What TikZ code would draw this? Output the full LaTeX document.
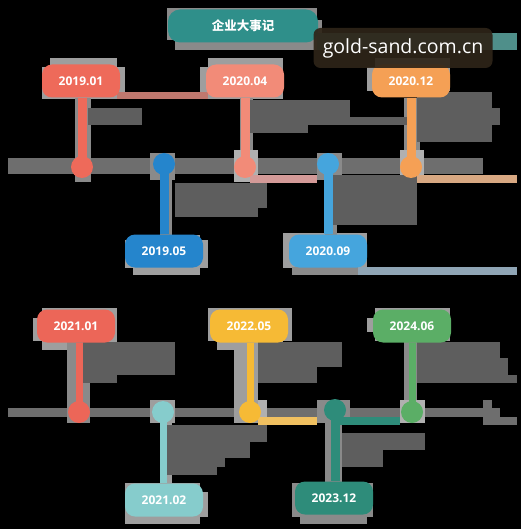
\documentclass[tikz,border=0pt]{standalone}
\usepackage{fontspec}
\setmainfont{Open Sans}
\newfontfamily\cjk{Noto Sans CJK SC}
\definecolor{cA}{HTML}{EE6A5A}
\definecolor{cB}{HTML}{F28B78}
\definecolor{cC}{HTML}{F5A055}
\definecolor{cD}{HTML}{2585CC}
\definecolor{cE}{HTML}{45A5DD}
\definecolor{cF}{HTML}{EC6658}
\definecolor{cG}{HTML}{86CCCC}
\definecolor{cH}{HTML}{F6BA35}
\definecolor{cI}{HTML}{2E8C7A}
\definecolor{cJ}{HTML}{5BAE66}
\definecolor{titleteal}{HTML}{2F8F8A}
\definecolor{tealbar}{HTML}{4F8F8A}
\definecolor{pinkbar}{HTML}{C0786E}
\definecolor{pinkbarB}{HTML}{D49A98}
\definecolor{tanbar}{HTML}{D8A882}
\definecolor{steelbar}{HTML}{8FA5B5}
\definecolor{yellowbar}{HTML}{F0C060}
\definecolor{wmbrown}{HTML}{2E2418}
\definecolor{axisgray}{HTML}{6E6E6E}
\definecolor{blockgray}{HTML}{5E5E5E}
\definecolor{framegray}{HTML}{9E9E9E}
\definecolor{lightframe}{HTML}{B0B0B0}
\definecolor{stemgray}{HTML}{8A8A8A}
\tikzset{
  datebox/.style={rounded corners=10pt, minimum width=78pt, minimum height=33pt,
    inner sep=0pt, text=white, font=\bfseries\fontsize{12}{14}\selectfont},
  dot/.style={circle, minimum size=22pt, inner sep=0pt},
  stem/.style={line width=9pt},
  block/.style={fill=blockgray},
  frame/.style={fill=framegray},
  lframe/.style={fill=lightframe},
  backing/.style={fill=stemgray},
  axis/.style={fill=axisgray}
}
\begin{document}
\begin{tikzpicture}[x=1pt,y=-1pt]
\useasboundingbox (0,0) rectangle (521,529);
\fill[black] (0,0) rectangle (521,529);

% ---------- title ----------
\fill[stemgray] (167,8) rectangle (317,40);
\fill[stemgray] (175,20) rectangle (322,50);
\fill[tealbar] (317,33) rectangle (517,50);
\node[fill=titleteal, rounded corners=12pt, minimum width=150pt, minimum height=33pt,
  text=white, font=\cjk\bfseries\fontsize{12.5}{14}\selectfont] (title) at (243,26) {企业大事记};

% ---------- top axis ----------
\fill[axis] (8,158) rectangle (483,174);

% backings top row
\fill[frame] (50,58) rectangle (117,70);  \fill[frame] (42,67) rectangle (125,99);
\fill[frame] (208,58) rectangle (283,70); \fill[frame] (200,67) rectangle (283,99);
\fill[frame] (375,58) rectangle (450,70); \fill[frame] (367,67) rectangle (450,91);
\fill[frame] (133,235) rectangle (200,275); \fill[frame] (125,240) rectangle (208,268);
\fill[frame] (283,233) rectangle (367,268);
\fill[backing] (75,98) rectangle (91,182);
\fill[backing] (240,98) rectangle (253,182);
\fill[backing] (404,98) rectangle (420,182);
\fill[backing] (150,153) rectangle (175,180); \fill[backing] (160,175) rectangle (172,235);
\fill[backing] (317,153) rectangle (342,180); \fill[backing] (325,175) rectangle (337,235);
\fill[lframe] (234,150) rectangle (258,182);
\fill[lframe] (400,150) rectangle (424,182);

% colored bars top
\fill[pinkbar] (117,92) rectangle (208,99);
\fill[pinkbarB] (250,175) rectangle (317,183);
\fill[tanbar] (417,175) rectangle (517,183);
\fill[stemgray] (292,267) rectangle (358,275);
\fill[steelbar] (358,267) rectangle (517,275);

% text blocks top
\fill[block] (88,108) rectangle (142,125);
\fill[block] (250,100) rectangle (350,117);
\fill[block] (250,117) rectangle (308,133);
\fill[block] (308,117) rectangle (408,125);
\fill[block] (417,92) rectangle (492,142);
\fill[block] (492,108) rectangle (500,125);
\fill[block] (175,183) rectangle (267,208);
\fill[block] (175,208) rectangle (258,217);
\fill[block] (333,175) rectangle (417,225);

% nodes top row
\node[datebox, fill=cA] (d1) at (81,81) {2019.01};
\node[datebox, fill=cB] (d2) at (245,81) {2020.04};
\node[datebox, fill=cC] (d3) at (411,81) {2020.12};
\node[datebox, fill=cD] (d4) at (164,251) {2019.05};
\node[datebox, fill=cE] (d5) at (328,251) {2020.09};
\node[dot, fill=cA] (p1) at (82,167) {};
\node[dot, fill=cB] (p2) at (245,167) {};
\node[dot, fill=cC] (p3) at (411,167) {};
\node[dot, fill=cD] (p4) at (164,164) {};
\node[dot, fill=cE] (p5) at (328,164) {};
\draw[stem, draw=cA] (p1 |- d1.south) -- (p1.center);
\draw[stem, draw=cB] (p2 |- d2.south) -- (p2.center);
\draw[stem, draw=cC] (p3 |- d3.south) -- (p3.center);
\draw[stem, draw=cD] (p4.center) -- (p4 |- d4.north);
\draw[stem, draw=cE] (p5.center) -- (p5 |- d5.north);

% ---------- bottom axis ----------
\fill[axis] (8,408) rectangle (500,417);
\fill[axis] (483,400) rectangle (492,408);
\fill[axis] (483,417) rectangle (517,425);

% backings bottom row
\fill[frame] (42,308) rectangle (117,350); \fill[frame] (33,318) rectangle (117,341);
\fill[frame] (208,308) rectangle (292,341); \fill[frame] (217,341) rectangle (283,350);
\fill[frame] (375,308) rectangle (450,341); \fill[frame] (367,318) rectangle (450,332);
\fill[frame] (125,483) rectangle (200,524); \fill[frame] (200,492) rectangle (208,517);
\fill[stemgray] (292,483) rectangle (373,517); \fill[stemgray] (300,517) rectangle (367,524);
\fill[backing] (67,342) rectangle (90,423);
\fill[frame] (150,400) rectangle (175,423); \fill[frame] (160,423) rectangle (172,483);
\fill[frame] (234,340) rectangle (258,423); \fill[lframe] (258,400) rectangle (267,417);
\fill[backing] (317,400) rectangle (350,423); \fill[backing] (325,423) rectangle (342,483);
\fill[lframe] (400,400) rectangle (425,423); \fill[backing] (404,342) rectangle (417,400);

% colored bars bottom
\fill[yellowbar] (258,417) rectangle (317,425);
\fill[cI] (340,417) rectangle (400,425);

% text blocks bottom
\fill[block] (83,342) rectangle (175,375);
\fill[block] (83,375) rectangle (117,383);
\fill[block] (258,342) rectangle (342,367);
\fill[block] (258,367) rectangle (317,383);
\fill[block] (417,342) rectangle (500,358);
\fill[block] (417,358) rectangle (508,375);
\fill[block] (417,375) rectangle (517,383);
\fill[block] (167,425) rectangle (267,442);
\fill[block] (167,442) rectangle (250,458);
\fill[block] (167,458) rectangle (225,467);
\fill[block] (167,467) rectangle (217,475);
\fill[block] (342,433) rectangle (425,450);
\fill[block] (342,450) rectangle (383,467);

% nodes bottom row
\node[datebox, fill=cF] (e1) at (76,326) {2021.01};
\node[datebox, fill=cH] (e2) at (249,326) {2022.05};
\node[datebox, fill=cJ] (e3) at (412,326) {2024.06};
\node[datebox, fill=cG] (e4) at (164,500) {2021.02};
\node[datebox, fill=cI] (e5) at (334,498) {2023.12};
\node[dot, fill=cF] (q1) at (79,412) {};
\node[dot, fill=cG] (q2) at (163,412) {};
\node[dot, fill=cH] (q3) at (250,412) {};
\node[dot, fill=cI] (q4) at (335,410) {};
\node[dot, fill=cJ] (q5) at (412,412) {};
\draw[stem, line width=7pt, draw=cF] (q1 |- e1.south) -- (q1.center);
\draw[stem, line width=7pt, draw=cH] (q3 |- e2.south) -- (q3.center);
\draw[stem, line width=7pt, draw=cJ] (q5 |- e3.south) -- (q5.center);
\draw[stem, line width=7pt, draw=cG] (q2.center) -- (q2 |- e4.north);
\draw[stem, line width=9pt, draw=cI] (q4.center) -- (q4 |- e5.north);

% ---------- watermark ----------
\node[fill=wmbrown, fill opacity=0.92, text opacity=1,
  rounded corners=7pt, minimum width=179pt, minimum height=40pt, text=white,
  font=\fontsize{19.5}{21}\selectfont] (wm) at (403,48) {gold-sand.com.cn};
\end{tikzpicture}
\end{document}
